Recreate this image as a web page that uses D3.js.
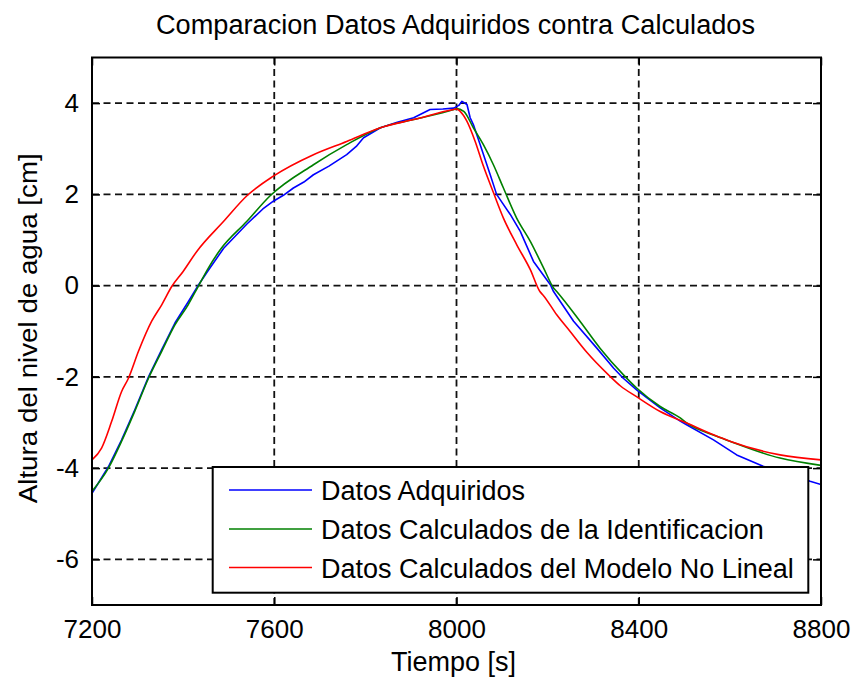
<!DOCTYPE html>
<html>
<head>
<meta charset="utf-8">
<script src="https://cdn.jsdelivr.net/npm/d3@7"></script>
<style>
  html, body { margin: 0; padding: 0; background: #fff; }
  svg { display: block; font-family: "Liberation Sans", Arial, sans-serif; }
</style>
</head>
<body>
<svg id="chart" width="853" height="680"></svg>
<script>
// Measured water level (acquired data)
const tAdq = [7200, 7236, 7265, 7294, 7324, 7353, 7382, 7411, 7434, 7455, 7489, 7540, 7575, 7598, 7620, 7642, 7665, 7686, 7720, 7759, 7780, 7796, 7833, 7870, 7906, 7942, 7970, 7994, 8005, 8012, 8023, 8030, 8037, 8052, 8074, 8088, 8118, 8140, 8154, 8169, 8206, 8213, 8257, 8308, 8345, 8366, 8396, 8447, 8491, 8505, 8564, 8615, 8673, 8700, 8740, 8776, 8800];
const hAdq = [-4.55, -3.97, -3.38, -2.72, -2.0, -1.4, -0.82, -0.36, 0.02, 0.33, 0.82, 1.35, 1.68, 1.85, 1.98, 2.14, 2.27, 2.43, 2.62, 2.87, 3.05, 3.24, 3.46, 3.58, 3.68, 3.86, 3.87, 3.89, 3.95, 4.04, 3.97, 3.68, 3.53, 3.09, 2.43, 2.0, 1.56, 1.19, 0.87, 0.53, 0.02, -0.13, -0.78, -1.37, -1.81, -2.03, -2.29, -2.68, -2.97, -3.05, -3.38, -3.71, -3.96, -4.05, -4.15, -4.29, -4.36];

// Output of the identified model
const tIdent = [7200, 7236, 7265, 7294, 7324, 7353, 7382, 7411, 7433, 7455, 7481, 7540, 7591, 7686, 7759, 7833, 7906, 7994, 8000, 8016, 8037, 8059, 8081, 8103, 8132, 8162, 8191, 8213, 8220, 8271, 8315, 8366, 8396, 8447, 8491, 8505, 8571, 8600, 8710, 8800];
const hIdent = [-4.51, -4.0, -3.41, -2.75, -2.03, -1.44, -0.86, -0.42, -0.02, 0.38, 0.78, 1.41, 1.97, 2.65, 3.09, 3.46, 3.64, 3.86, 3.88, 3.82, 3.46, 3.09, 2.65, 2.14, 1.48, 0.97, 0.39, -0.05, -0.13, -0.78, -1.37, -1.95, -2.25, -2.65, -2.9, -3.01, -3.3, -3.41, -3.78, -3.94];

// Output of the nonlinear model
const tNoLin = [7200, 7221, 7243, 7265, 7280, 7302, 7331, 7353, 7375, 7400, 7430, 7489, 7540, 7598, 7686, 7759, 7833, 7906, 7994, 8000, 8008, 8023, 8041, 8059, 8081, 8103, 8132, 8162, 8183, 8191, 8220, 8249, 8286, 8333, 8360, 8396, 8447, 8505, 8564, 8600, 8710, 8800];
const hNoLin = [-3.82, -3.56, -2.98, -2.32, -2.03, -1.44, -0.78, -0.42, -0.02, 0.31, 0.75, 1.41, 1.97, 2.4, 2.87, 3.16, 3.46, 3.64, 3.86, 3.87, 3.82, 3.6, 3.16, 2.62, 2.04, 1.48, 0.9, 0.35, -0.13, -0.22, -0.64, -1.0, -1.46, -1.95, -2.2, -2.44, -2.76, -3.01, -3.27, -3.41, -3.71, -3.82];

const xTicks = [7200, 7600, 8000, 8400, 8800];
const yTicks = [-6, -4, -2, 0, 2, 4];
const xDomain = [7200, 8800];
const yDomain = [-7, 5];

const seriesNames = [
  "Datos Adquiridos",
  "Datos Calculados de la Identificacion",
  "Datos Calculados del Modelo No Lineal"
];
const seriesColors = ["#0000ff", "#008000", "#ff0000"];

const titleText = "Comparacion Datos Adquiridos contra Calculados";
const xLabelText = "Tiempo [s]";
const yLabelText = "Altura del nivel de agua [cm]";

// ---- layout ----
const svg = d3.select("#chart");
const L = 92, R = 821, T = 57.5, B = 605;

const x = d3.scaleLinear().domain(xDomain).range([L, R]);
const y = d3.scaleLinear().domain(yDomain).range([B, T]);

svg.append("rect").attr("width", 853).attr("height", 680).attr("fill", "#fff");

// grid
const grid = svg.append("g")
  .attr("stroke", "#111").attr("stroke-width", 1.8)
  .attr("stroke-dasharray", "7,4.5");
grid.selectAll("line.gx")
  .data(xTicks.filter(v => v > xDomain[0] && v < xDomain[1]))
  .join("line")
  .attr("x1", d => x(d)).attr("x2", d => x(d))
  .attr("y1", T).attr("y2", B);
grid.selectAll("line.gy")
  .data(yTicks)
  .join("line")
  .attr("x1", L).attr("x2", R)
  .attr("y1", d => y(d)).attr("y2", d => y(d));

// data lines
svg.append("defs").append("clipPath").attr("id", "plotClip")
  .append("rect").attr("x", L).attr("y", T).attr("width", R - L).attr("height", B - T);

const seriesData = [
  tAdq.map((t, i) => [t, hAdq[i]]),
  tIdent.map((t, i) => [t, hIdent[i]]),
  tNoLin.map((t, i) => [t, hNoLin[i]])
];
const lineGen = d3.line().x(d => x(d[0])).y(d => y(d[1]));
const lineSmooth = d3.line().x(d => x(d[0])).y(d => y(d[1])).curve(d3.curveMonotoneX);

const plot = svg.append("g").attr("clip-path", "url(#plotClip)");
// draw order: acquired, identification, nonlinear
seriesData.forEach((data, i) => {
  plot.append("path")
    .datum(data)
    .attr("fill", "none")
    .attr("stroke", seriesColors[i])
    .attr("stroke-width", 1.6)
    .attr("stroke-linejoin", "round")
    .attr("d", i === 0 ? lineGen : lineSmooth);
});

// axes with inward ticks on all four sides
const fmt = d => String(d);
const tickLen = 8;
const axB = svg.append("g").attr("transform", `translate(0,${B})`)
  .call(d3.axisBottom(x).tickValues(xTicks).tickFormat(fmt).tickSizeInner(-tickLen).tickSizeOuter(0).tickPadding(15));
const axT = svg.append("g").attr("transform", `translate(0,${T})`)
  .call(d3.axisTop(x).tickValues(xTicks).tickFormat("").tickSizeInner(-tickLen).tickSizeOuter(0));
const axL = svg.append("g").attr("transform", `translate(${L},0)`)
  .call(d3.axisLeft(y).tickValues(yTicks).tickFormat(fmt).tickSizeInner(-tickLen).tickSizeOuter(0).tickPadding(13));
const axR = svg.append("g").attr("transform", `translate(${R},0)`)
  .call(d3.axisRight(y).tickValues(yTicks).tickFormat("").tickSizeInner(-tickLen).tickSizeOuter(0));

[axB, axT, axL, axR].forEach(a => {
  a.select(".domain").remove();
  a.selectAll(".tick line").attr("stroke", "#000").attr("stroke-width", 1.5);
  a.selectAll(".tick text")
    .attr("fill", "#000")
    .style("font-family", '"Liberation Sans", Arial, sans-serif')
    .style("font-size", "26px");
});

// frame
svg.append("rect")
  .attr("x", L).attr("y", T).attr("width", R - L).attr("height", B - T)
  .attr("fill", "none").attr("stroke", "#000").attr("stroke-width", 2);

// title and axis labels
svg.append("text")
  .attr("x", (L + R) / 2 - 1).attr("y", 33.5)
  .attr("text-anchor", "middle")
  .attr("textLength", 599).attr("lengthAdjust", "spacingAndGlyphs")
  .style("font-size", "27px")
  .text(titleText);

svg.append("text")
  .attr("x", (L + R) / 2 - 3).attr("y", 671)
  .attr("text-anchor", "middle")
  .style("font-size", "27px")
  .text(xLabelText);

svg.append("text")
  .attr("transform", `translate(37,${(T + B) / 2 - 3}) rotate(-90)`)
  .attr("text-anchor", "middle")
  .attr("textLength", 350).attr("lengthAdjust", "spacingAndGlyphs")
  .style("font-size", "26px")
  .text(yLabelText);

// legend
const lg = svg.append("g");
const lgX = 212.7, lgY = 467, lgW = 595.6, lgH = 125.7;
lg.append("rect")
  .attr("x", lgX).attr("y", lgY).attr("width", lgW).attr("height", lgH)
  .attr("fill", "#fff").attr("stroke", "#000").attr("stroke-width", 2);
const rows = [490, 529, 567.5];
seriesNames.forEach((name, i) => {
  lg.append("line")
    .attr("x1", 229).attr("x2", 312)
    .attr("y1", rows[i]).attr("y2", rows[i])
    .attr("stroke", seriesColors[i]).attr("stroke-width", 1.6);
  lg.append("text")
    .attr("x", 321).attr("y", rows[i] + 10)
    .style("font-size", "27px")
    .text(name);
});
</script>
</body>
</html>
